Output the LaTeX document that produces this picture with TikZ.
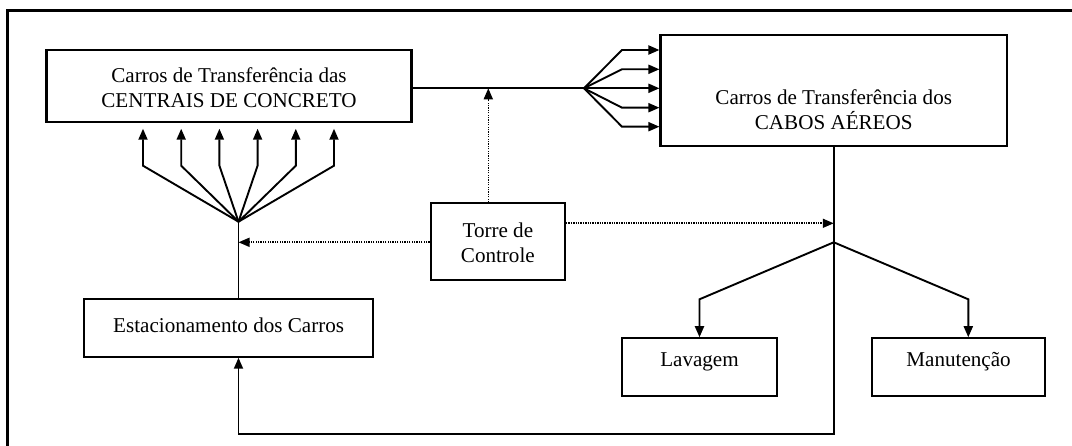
\documentclass[tikz,border=0pt]{standalone}
\usepackage{fontspec}
\setmainfont{Liberation Serif}
\usetikzlibrary{arrows.meta}
\begin{document}
\begin{tikzpicture}[x=1pt,y=-1pt,
 box/.style={draw,line width=2.1pt,inner sep=0pt},
 txt/.style={align=center,inner sep=0pt,font=\fontsize{21.1}{25}\selectfont},
 ln/.style={line width=1.9pt},
 arr/.style={ln,-{Triangle[length=11pt,width=9pt]}},
 dotarr/.style={line width=1.6pt,dash pattern=on 1.3pt off 1.1pt,-{Triangle[length=11pt,width=9pt]}}]
\useasboundingbox (0,0) rectangle (1072,446);
\coordinate (f1) at (7.5,446);
\coordinate (f2) at (7.5,10.5);
\coordinate (f3) at (1072,10.5);
\draw[line width=2.2pt] (f1) -- (f2) -- (f3);

\node[box,minimum width=365pt,minimum height=71.7pt] (cc) at (229,85.85) {};
\node[txt] (cct) at (229,88) {Carros de Transferência das\\CENTRAIS DE CONCRETO};
\node[box,minimum width=346.5pt,minimum height=110.7pt] (ca) at (833.75,90.35) {};
\node[txt] (cat) at (833.75,110) {Carros de Transferência dos\\CABOS AÉREOS};
\node[box,minimum width=134.3pt,minimum height=76.7pt] (tc) at (497.85,241.7) {};
\node[txt] (tct) at (497.85,243) {Torre de\\Controle};
\node[box,minimum width=288.5pt,minimum height=57.4pt] (ec) at (228.65,328) {};
\node[txt] (ect) at (228.65,325) {Estacionamento dos Carros};
\node[box,minimum width=154.3pt,minimum height=57.7pt] (lv) at (699.5,367.15) {};
\node[txt] (lvt) at (699.5,362) {Lavagem};
\node[box,minimum width=172.8pt,minimum height=57.7pt] (mn) at (958.6,367.15) {};
\node[txt] (mnt) at (958.6,362) {Manutenção};

% fan up to centrais
\coordinate (fu) at (238.5,221.7);
\foreach \x in {143,181.2,219.4,257.6,295.8,334}
  \draw[arr,shorten >=6pt] (fu) -- (\x,165.7) -- (\x,0 |- cc.south);
\draw[ln] (fu) -- (fu |- ec.north);

% line to fan right
\coordinate (fr) at (584,88.3);
\draw[ln] (cc.east |- fr) -- (fr);
\foreach \y in {50,69.3,88.3,107.7,126.7}
  \draw[arr] (fr) -- (622,\y) -- (ca.west |- 0,\y);

% control tower dotted
\draw[dotarr] (488.3,0 |- tc.north) -- (488.3,0 |- fr);
\draw[dotarr] (tc.west |- 0,242.3) -- (fu |- 0,242.3);
\draw[dotarr] (tc.east |- 0,223.3) -- (ca.south |- 0,223.3);

% cabos down and return loop
\coordinate (bl) at (ca.south |- 0,434.3);
\draw[arr] (ca.south) -- (bl) -- (fu |- bl) -- (fu |- ec.south);

% branch to lavagem / manutencao
\coordinate (bp) at (ca.south |- 0,242.3);
\draw[arr] (bp) -- (lv.north |- 0,299.3) -- (lv.north);
\draw[arr] (bp) -- (968.3,299.3) -- (968.3,0 |- mn.north);
\end{tikzpicture}
\end{document}
